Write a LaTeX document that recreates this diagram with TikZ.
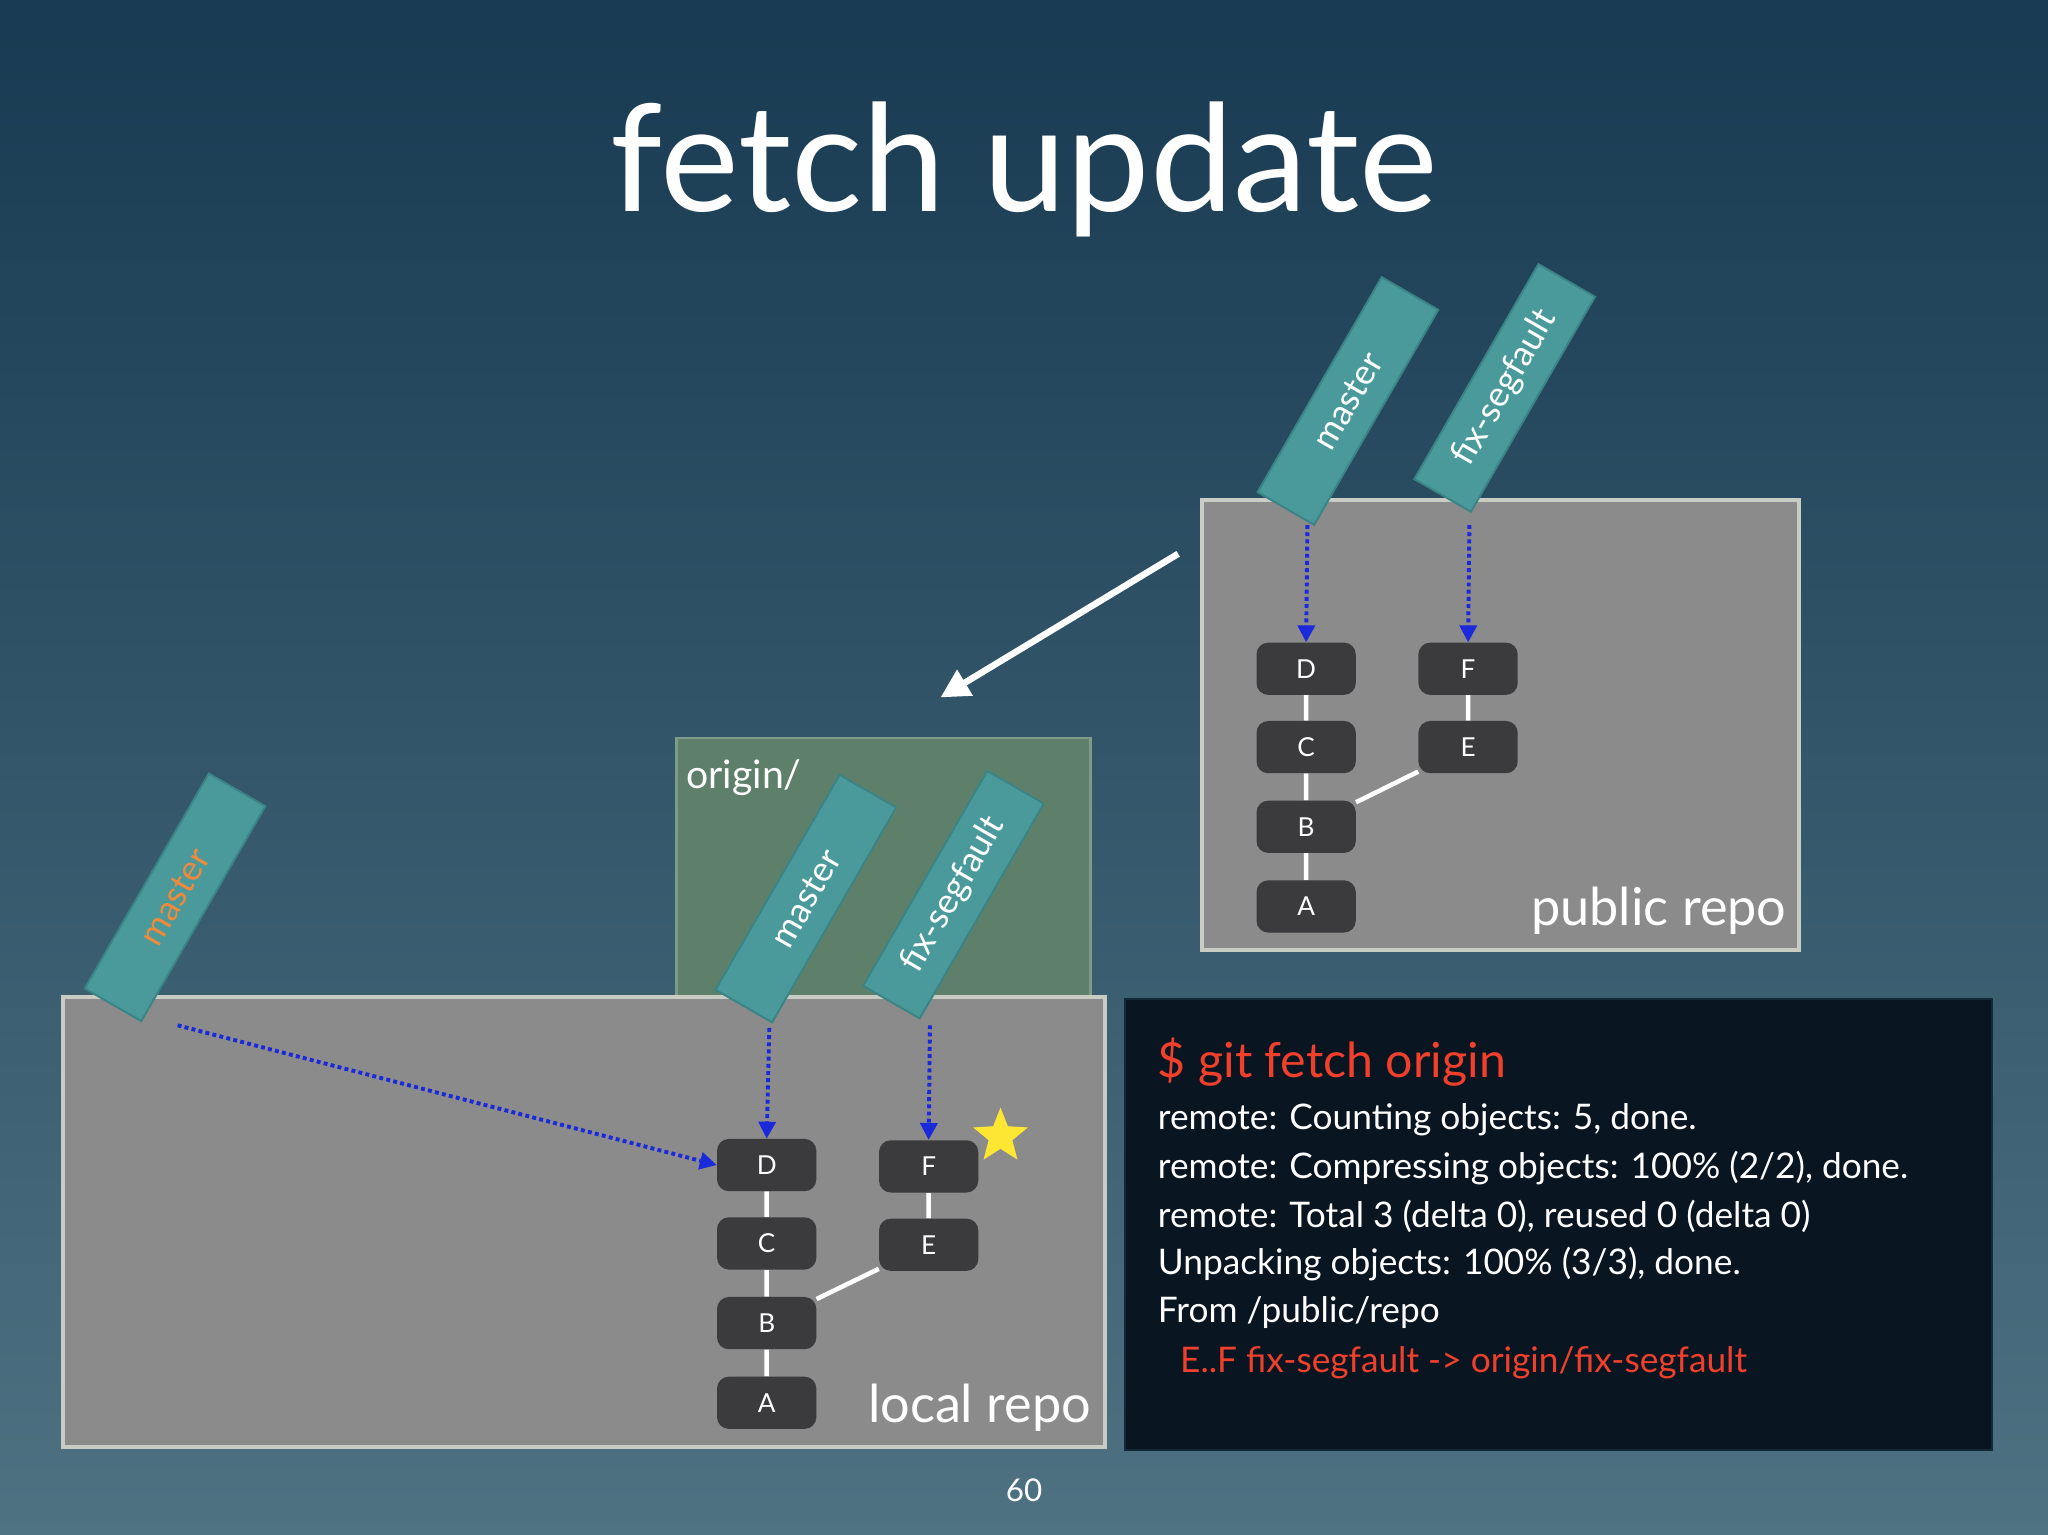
\documentclass[tikz,border=0pt]{standalone}
\usepackage{fontspec}
\setmainfont{Lato}
\usetikzlibrary{arrows.meta,shapes.geometric,backgrounds}
\definecolor{bgtop}{HTML}{183A52}
\definecolor{bgbot}{HTML}{4E7282}
\definecolor{repo}{HTML}{8C8B8C}
\definecolor{repoedge}{HTML}{C9CCC2}
\definecolor{orig}{HTML}{5E806A}
\definecolor{commit}{HTML}{3B3A3C}
\definecolor{tagf}{HTML}{4A9A9C}
\definecolor{tage}{HTML}{3B8486}
\definecolor{term}{HTML}{0A1522}
\definecolor{termred}{HTML}{F0402C}
\definecolor{arrblue}{HTML}{1A2ADB}
\definecolor{orangetxt}{HTML}{F08A3A}
\pgfdeclarelayer{links}
\pgfsetlayers{background,links,main}
\begin{document}
\begin{tikzpicture}[x=1pt,y=-1pt,
  commit/.style={rounded corners=9pt,fill=commit,minimum width=76pt,minimum height=40pt,text=white,font=\fontsize{20}{24}\selectfont,inner sep=0},
  tag/.style={rotate=60,fill=tagf,draw=tage,line width=1.5pt,minimum width=190pt,minimum height=50pt,text=white,font=\fontsize{27}{30}\selectfont,inner sep=0},
  link/.style={white,line width=3.5pt},
  dot/.style={arrblue,line width=3pt,dash pattern=on 3pt off 2.5pt,-{Triangle[width=13pt,length=13pt]}},
  box/.style={draw=repoedge,line width=3pt,fill=repo},
  tl/.style={white,anchor=west,font=\fontsize{27}{30}\selectfont}]
\begin{scope}[on background layer]
\shade[top color=bgtop,bottom color=bgbot] (0,0) rectangle (1568,1175);
\draw[box] (920,383) rectangle (1377,727);
\fill[orig] (518,565) rectangle (835,763);
\draw[orig!80!white,line width=2pt] (518,763) -- (518,565) -- (835,565) -- (835,763);
\draw[box] (48,763) rectangle (846,1108);
\end{scope}
\useasboundingbox (0,0) rectangle (1568,1175);
\node[white,font=\fontsize{114}{120}\selectfont] (title) at (784,130) {fetch update};
% public repo
\node[commit] (pD) at (1000,512) {D};
\node[commit] (pC) at (1000,572) {C};
\node[commit] (pB) at (1000,633) {B};
\node[commit] (pA) at (1000,694) {A};
\node[commit] (pF) at (1124,512) {F};
\node[commit] (pE) at (1124,572) {E};
\begin{pgfonlayer}{links}
\draw[link] (pD)--(pC) (pC)--(pB) (pB)--(pA) (pF)--(pE) (pE)--(pB);
\end{pgfonlayer}
\node[white,font=\fontsize{40}{44}\selectfont] (pub) at (1270,697) {public repo};
\node[tag] (pm) at (1032,307) {master};
\node[tag] (pf) at (1152,297) {fix-segfault};
\coordinate (pm0) at (1001,402); \coordinate (pf0) at (1125,402);
\draw[dot] (pm0) -- (pD.north);
\draw[dot] (pf0) -- (pF.north);
% white arrow
\coordinate (wa0) at (902,424); \coordinate (wa1) at (720,534);
\draw[white,line width=5pt,-{Triangle[width=22pt,length=22pt]}] (wa0) -- (wa1);
\node[white,anchor=west,font=\fontsize{30}{34}\selectfont] (ol) at (522,595) {origin/};
% local repo
\node[commit] (lD) at (587,892) {D};
\node[commit] (lC) at (587,952) {C};
\node[commit] (lB) at (587,1013) {B};
\node[commit] (lA) at (587,1074) {A};
\node[commit] (lF) at (711,893) {F};
\node[commit] (lE) at (711,953) {E};
\begin{pgfonlayer}{links}
\draw[link] (lD)--(lC) (lC)--(lB) (lB)--(lA) (lF)--(lE) (lE)--(lB);
\end{pgfonlayer}
\node[star,star points=5,star point ratio=2.3,fill=yellow!85!orange!80,minimum size=44pt,inner sep=0] (star) at (766,870) {};
\node[white,font=\fontsize{40}{44}\selectfont] (loc) at (750,1078) {local repo};
\node[tag,text=orangetxt] (lm) at (134,687) {master};
\node[tag] (om) at (617,688) {master};
\node[tag] (of) at (730,685) {fix-segfault};
\coordinate (lm0) at (136,785); \coordinate (om0) at (589,787); \coordinate (of0) at (712,785);
\draw[dot] (om0) -- (lD.north);
\draw[dot] (of0) -- (lF.north);
\draw[dot] (lm0) -- (lD.west);
% terminal
\draw[fill=term,draw=bgtop!70!black,line width=1.5pt] (861,765) rectangle (1525,1110);
\node[termred,anchor=west,font=\fontsize{37}{40}\selectfont] (t0) at (883,813) {\$ git fetch origin};
\node[tl] (t1) at (883,857) {remote: Counting objects: 5, done.};
\node[tl] (t2) at (883,894) {remote: Compressing objects: 100\% (2/2), done.};
\node[tl] (t3) at (883,931) {remote: Total 3 (delta 0), reused 0 (delta 0)};
\node[tl] (t4) at (883,968) {Unpacking objects: 100\% (3/3), done.};
\node[tl] (t5) at (883,1005) {From /public/repo};
\node[tl,text=termred] (t6) at (900,1043) {E..F fix-segfault -> origin/fix-segfault};
\node[white,font=\fontsize{24}{28}\selectfont] (pg) at (784,1141) {60};
\end{tikzpicture}
\end{document}
